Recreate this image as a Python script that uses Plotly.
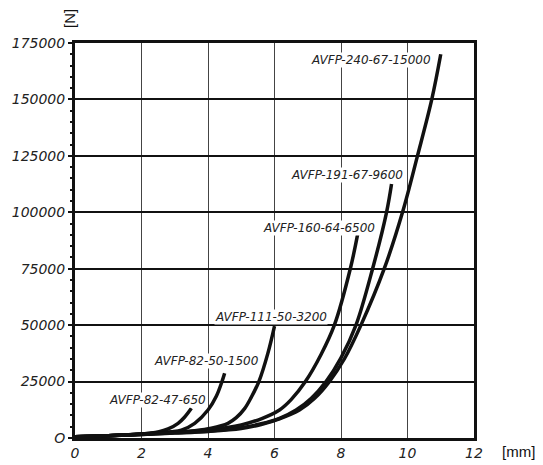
import plotly.graph_objects as go

# Data (x in mm, force in N)
names = ["AVFP-82-47-650", "AVFP-82-50-1500", "AVFP-111-50-3200",
         "AVFP-160-64-6500", "AVFP-191-67-9600", "AVFP-240-67-15000"]

x_650 = [0, 1, 2, 2.5, 2.8, 3.1, 3.3, 3.5]
y_650 = [500, 1000, 1800, 2700, 4000, 6500, 9300, 13150]

x_1500 = [0, 1, 2, 2.5, 2.9, 3.2, 3.6, 4.0, 4.25, 4.42, 4.5]
y_1500 = [500, 1000, 1800, 2400, 2800, 3500, 6500, 12400, 18500, 25000, 28700]

x_3200 = [0, 1, 2, 3, 3.6, 4.1, 4.6, 4.85, 5.1, 5.3, 5.53, 5.8, 6.0]
y_3200 = [500, 1000, 1700, 2500, 3200, 4300, 6500, 9000, 13000, 18000, 25000, 37500, 49600]

x_6500 = [0, 1, 2, 3, 4, 5, 5.6, 6.15, 6.5, 6.93, 7.4, 7.8, 8.28, 8.5]
y_6500 = [500, 1000, 1700, 2500, 3600, 5800, 8500, 12400, 17000, 25000, 37000, 50000, 75000, 90200]

x_9600 = [0, 1, 2, 3, 4, 5, 5.6, 6.15, 6.65, 7.1, 7.55, 8.0, 8.45, 8.95, 9.37, 9.52]
y_9600 = [500, 1000, 1600, 2300, 3000, 4600, 6300, 8700, 12400, 17500, 25000, 35500, 50000, 75000, 100000, 112500]

x_15000 = [0, 1, 2, 3, 4, 5, 5.6, 6.15, 6.75, 7.2, 7.65, 8.1, 8.6, 9.3, 9.85, 10.3, 10.73, 11.0]
y_15000 = [500, 1000, 1600, 2200, 2900, 4200, 6000, 8500, 12400, 17500, 25000, 35000, 50000, 75000, 100000, 125000, 150000, 170000]

series_x = [x_650, x_1500, x_3200, x_6500, x_9600, x_15000]
series_y = [y_650, y_1500, y_3200, y_6500, y_9600, y_15000]

# label anchor positions (data coords)
label_x = [2.48, 3.95, 5.9, 7.33, 8.19, 8.89]
label_y = [16800, 34200, 53500, 92900, 116500, 167500]

y_ticks = [0, 25000, 50000, 75000, 100000, 125000, 150000, 175000]
y_ticktext = ["O", "25000", "50000", "75000", "100000", "125000", "150000", "175000"]
x_ticks = [0, 2, 4, 6, 8, 10, 12]

fig = go.Figure()
for xs, ys, n in zip(series_x, series_y, names):
    fig.add_trace(go.Scatter(x=xs, y=ys, mode="lines", name=n,
                             line=dict(color="#111111", width=3.5, shape="spline", smoothing=1.0),
                             showlegend=False, hoverinfo="skip"))

for n, lx, ly in zip(names, label_x, label_y):
    fig.add_annotation(x=lx, y=ly, text=n, showarrow=False, xanchor="center", yanchor="middle",
                       bgcolor="white", borderpad=0,
                       font=dict(family="DejaVu Sans", size=12, color="#222222", style="italic"))

fig.add_annotation(xref="paper", yref="paper", x=-0.0125, y=1.061, text="[N]", textangle=-90,
                   showarrow=False, xanchor="center", yanchor="middle", borderpad=0,
                   font=dict(family="Liberation Sans", size=15, color="#111111"))
fig.add_annotation(xref="paper", yref="paper", x=1.068, y=-0.035, text="[mm]",
                   showarrow=False, xanchor="left", yanchor="middle", borderpad=0,
                   font=dict(family="Liberation Sans", size=15, color="#111111"))

# page body adds an 8px offset, so the figure is 8px smaller and margins shifted
fig.update_layout(
    width=535, height=457,
    margin=dict(l=67, r=69, t=35, b=27),
    paper_bgcolor="white", plot_bgcolor="white",
    font=dict(family="DejaVu Sans", size=14, color="#222222"),
)
fig.update_xaxes(range=[0, 12], tickvals=x_ticks, showgrid=True, gridcolor="#444444", gridwidth=1,
                 showline=True, linecolor="#111111", linewidth=2.5, mirror=True, zeroline=False,
                 automargin=False, ticks="",
                 tickfont=dict(family="DejaVu Sans", size=14, style="italic", color="#222222"))
fig.update_yaxes(range=[0, 175000], tickvals=y_ticks, ticktext=y_ticktext, showgrid=True,
                 gridcolor="#111111", gridwidth=2,
                 showline=True, linecolor="#111111", linewidth=3, mirror=True, zeroline=False,
                 automargin=False,
                 ticks="outside", ticklen=4, tickwidth=2, tickcolor="#111111",
                 minor=dict(dtick=5000, ticks="outside", ticklen=2, tickwidth=1.5, tickcolor="#111111", showgrid=False),
                 tickfont=dict(family="DejaVu Sans", size=14, style="italic", color="#222222"))

fig.write_html("out.html")
